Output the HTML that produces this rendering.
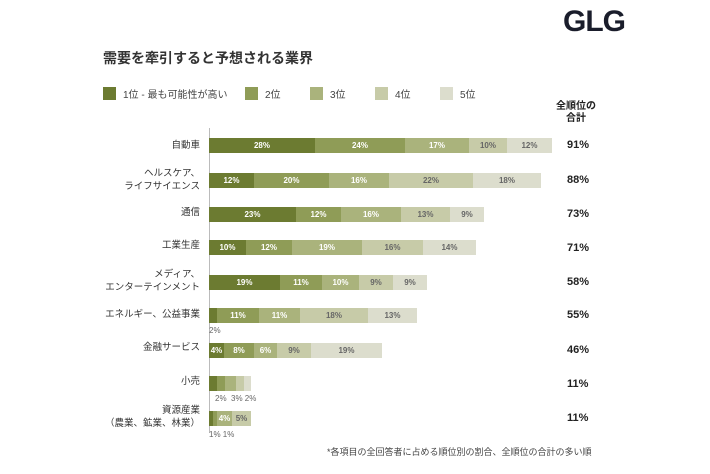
<!DOCTYPE html>
<html><head><meta charset="utf-8"><style>
body{margin:0;width:710px;height:474px;background:#fff;position:relative;overflow:hidden;font-family:"Liberation Sans","Noto Sans CJK JP",sans-serif;color:#333}
.a{position:absolute}
.sw{position:absolute;width:13px;height:13px;top:87px}
.lt{position:absolute;top:86px;font-size:10px;color:#444}
.row{position:absolute;left:209px;height:15px;display:flex}
.row div{height:15px;font-size:8px;font-weight:bold;color:#fff;text-align:center;line-height:15px;overflow:visible;white-space:nowrap}
.c1{background:#6c7b31}.c2{background:#8f9c57}.c3{background:#aab37c}.c4{background:#c7cba8;color:#666!important}.c5{background:#dcddcd;color:#666!important}
.lab{position:absolute;right:510px;font-size:9.5px;text-align:right;line-height:13px;color:#333}
.tot{position:absolute;left:567px;font-size:11px;font-weight:bold;color:#222}
.sm{position:absolute;font-size:8px;color:#666}
</style></head><body>
<div class="a" style="left:563px;top:5px;font-size:30px;font-weight:bold;color:#1a1d2b;letter-spacing:-1px">GLG</div>
<div class="a" style="left:103px;top:48px;font-size:14px;font-weight:bold;color:#333">需要を牽引すると予想される業界</div>
<div class="sw c1" style="left:103px"></div><div class="lt" style="left:123px">1位 - 最も可能性が高い</div>
<div class="sw c2" style="left:245px"></div><div class="lt" style="left:265px">2位</div>
<div class="sw c3" style="left:310px"></div><div class="lt" style="left:330px">3位</div>
<div class="sw c4" style="left:375px"></div><div class="lt" style="left:395px">4位</div>
<div class="sw c5" style="left:440px"></div><div class="lt" style="left:460px">5位</div>
<div class="a" style="left:556px;top:101px;font-size:10px;font-weight:bold;text-align:center;line-height:12px;color:#222">全順位の<br>合計</div>
<div class="a" style="left:209px;top:128px;width:1px;height:305px;background:#bbb"></div>

<div class="lab" style="top:139px">自動車</div>
<div class="row" style="top:138px"><div class="c1" style="width:106px">28%</div><div class="c2" style="width:90px">24%</div><div class="c3" style="width:64px">17%</div><div class="c4" style="width:38px">10%</div><div class="c5" style="width:45px">12%</div></div>
<div class="tot" style="top:139px">91%</div>

<div class="lab" style="top:167px">ヘルスケア、<br>ライフサイエンス</div>
<div class="row" style="top:173px"><div class="c1" style="width:45px">12%</div><div class="c2" style="width:75px">20%</div><div class="c3" style="width:60px">16%</div><div class="c4" style="width:84px">22%</div><div class="c5" style="width:68px">18%</div></div>
<div class="tot" style="top:174px">88%</div>

<div class="lab" style="top:206px">通信</div>
<div class="row" style="top:207px"><div class="c1" style="width:87px">23%</div><div class="c2" style="width:45px">12%</div><div class="c3" style="width:60px">16%</div><div class="c4" style="width:49px">13%</div><div class="c5" style="width:34px">9%</div></div>
<div class="tot" style="top:208px">73%</div>

<div class="lab" style="top:239px">工業生産</div>
<div class="row" style="top:240px"><div class="c1" style="width:37px">10%</div><div class="c2" style="width:46px">12%</div><div class="c3" style="width:70px">19%</div><div class="c4" style="width:61px">16%</div><div class="c5" style="width:53px">14%</div></div>
<div class="tot" style="top:242px">71%</div>

<div class="lab" style="top:268px">メディア、<br>エンターテインメント</div>
<div class="row" style="top:275px"><div class="c1" style="width:71px">19%</div><div class="c2" style="width:42px">11%</div><div class="c3" style="width:37px">10%</div><div class="c4" style="width:34px">9%</div><div class="c5" style="width:34px">9%</div></div>
<div class="tot" style="top:276px">58%</div>

<div class="lab" style="top:308px">エネルギー、公益事業</div>
<div class="row" style="top:308px"><div class="c1" style="width:8px"></div><div class="c2" style="width:42px">11%</div><div class="c3" style="width:41px">11%</div><div class="c4" style="width:68px">18%</div><div class="c5" style="width:49px">13%</div></div>
<div class="sm" style="left:209px;top:326px">2%</div>
<div class="tot" style="top:309px">55%</div>

<div class="lab" style="top:341px">金融サービス</div>
<div class="row" style="top:343px"><div class="c1" style="width:15px">4%</div><div class="c2" style="width:30px">8%</div><div class="c3" style="width:23px">6%</div><div class="c4" style="width:34px">9%</div><div class="c5" style="width:71px">19%</div></div>
<div class="tot" style="top:344px">46%</div>

<div class="lab" style="top:375px">小売</div>
<div class="row" style="top:376px"><div class="c1" style="width:8px"></div><div class="c2" style="width:8px"></div><div class="c3" style="width:11px"></div><div class="c4" style="width:8px"></div><div class="c5" style="width:7px"></div></div>
<div class="sm" style="left:215px;top:394px">2%&nbsp; 3%&nbsp;2%</div>
<div class="tot" style="top:378px">11%</div>

<div class="lab" style="top:404px">資源産業<br>（農業、鉱業、林業）</div>
<div class="row" style="top:411px"><div class="c1" style="width:4px"></div><div class="c2" style="width:4px"></div><div class="c3" style="width:15px">4%</div><div class="c4" style="width:19px">5%</div></div>
<div class="sm" style="left:209px;top:430px">1% 1%</div>
<div class="tot" style="top:412px">11%</div>

<div class="a" style="left:327px;top:445px;font-size:9px;color:#444">*各項目の全回答者に占める順位別の割合、全順位の合計の多い順</div>
</body></html>
